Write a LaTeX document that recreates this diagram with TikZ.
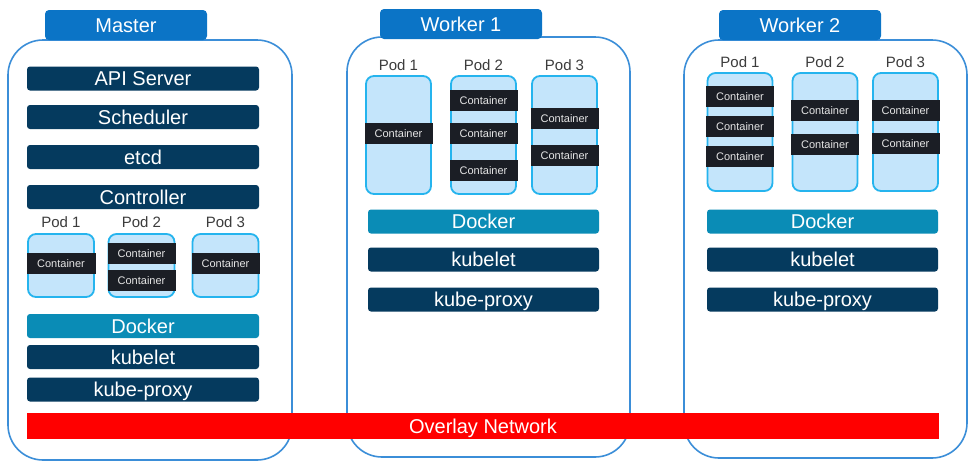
\documentclass[tikz,border=0pt]{standalone}
\usepackage{fontspec}
\setmainfont{Liberation Sans}
\definecolor{tabblue}{HTML}{0B74C6}
\definecolor{boxline}{HTML}{3B8ED8}
\definecolor{navy}{HTML}{053A5E}
\definecolor{dockerc}{HTML}{0A8CB6}
\definecolor{podfill}{HTML}{C4E5FB}
\definecolor{podline}{HTML}{25B4EE}
\definecolor{contc}{HTML}{1B1E25}
\definecolor{podtext}{HTML}{3C3C3C}
\definecolor{netred}{HTML}{FF0000}
\tikzset{
 every node/.style={inner sep=0pt, outer sep=0pt},
 bigfont/.style={font=\fontsize{20}{24}\selectfont, text height=14.3pt, text depth=0pt},
 bar/.style={fill=navy, rounded corners=3pt, bigfont, text=white, minimum width=232pt, minimum height=24pt},
 wbar/.style={bar, minimum width=231pt},
 docker/.style={bar, fill=dockerc},
 wdocker/.style={wbar, fill=dockerc},
 pod/.style={fill=podfill, draw=podline, line width=1.8pt, rounded corners=8pt},
 mpod/.style={pod, minimum width=66pt, minimum height=63pt},
 wpod/.style={pod, minimum width=65pt, minimum height=118pt},
 cont/.style={fill=contc, text=white!90!black, font=\fontsize{11}{13}\selectfont, text height=8pt, text depth=0pt, minimum height=21pt, minimum width=68pt},
 podlabel/.style={text=podtext, font=\fontsize{15}{18}\selectfont},
 host/.style={draw=boxline, line width=1.6pt, rounded corners=35pt, fill=white, minimum width=283pt},
 tab/.style={fill=tabblue, text=white, bigfont, rounded corners=4pt, minimum width=162pt, minimum height=30pt},
 netbar/.style={fill=netred, text=white, bigfont, minimum width=912pt, minimum height=26pt},
}
\begin{document}
\begin{tikzpicture}[x=1pt,y=-1pt]
\useasboundingbox (0,0) rectangle (975,467);
% host boxes
\node[host, minimum width=284pt, minimum height=420pt] (master) at (150,250) {};
\node[host, minimum height=420pt] (worker1) at (488.5,247) {};
\node[host, minimum height=418pt] (worker2) at (825.5,249) {};
% tabs
\node[tab] (mtab) at (126,25) {Master};
\node[tab] (w1tab) at (461,24) {Worker 1};
\node[tab] (w2tab) at (800,25) {Worker 2};
% master
\node[bar] (api) at (143,78.5) {API Server};
\node[bar] (sched) at (143,117) {Scheduler};
\node[bar] (etcd) at (143,157) {etcd};
\node[bar] (ctrl) at (143,197) {Controller};
\node[podlabel] (mp1l) at (61,222) {Pod 1};
\node[podlabel] (mp2l) at (141.5,222) {Pod 2};
\node[podlabel] (mp3l) at (225.5,222) {Pod 3};
\node[mpod] (mp1) at (61,265.5) {};
\node[mpod] (mp2) at (141.5,265.5) {};
\node[mpod] (mp3) at (225.5,265.5) {};
\node[cont, minimum width=69pt] (mc1) at (61,263) {Container};
\node[cont] (mc21) at (141.5,253.5) {Container};
\node[cont] (mc22) at (141.5,280) {Container};
\node[cont] (mc3) at (225.5,263) {Container};
\node[docker] (mdock) at (143,326) {Docker};
\node[bar] (mkubelet) at (143,357) {kubelet};
\node[bar] (mproxy) at (143,389.5) {kube-proxy};
% worker 1
\node[podlabel] (ap1l) at (398.5,65) {Pod 1};
\node[podlabel] (ap2l) at (483.5,65) {Pod 2};
\node[podlabel] (ap3l) at (564.5,65) {Pod 3};
\node[wpod] (ap1) at (398.5,135) {};
\node[wpod] (ap2) at (483.5,135) {};
\node[wpod] (ap3) at (564.5,135) {};
\node[cont] (ac1) at (398.5,133.5) {Container};
\node[cont] (ac21) at (483.5,100.5) {Container};
\node[cont] (ac22) at (483.5,133.5) {Container};
\node[cont] (ac23) at (483.5,170.5) {Container};
\node[cont] (ac31) at (564.5,118.5) {Container};
\node[cont] (ac32) at (564.5,155.5) {Container};
\node[wdocker] (adock) at (483.5,221.5) {Docker};
\node[wbar] (akubelet) at (483.5,259.5) {kubelet};
\node[wbar] (aproxy) at (483.5,299.5) {kube-proxy};
% worker 2
\node[podlabel] (bp1l) at (740,62) {Pod 1};
\node[podlabel] (bp2l) at (825,62) {Pod 2};
\node[podlabel] (bp3l) at (905.5,62) {Pod 3};
\node[wpod] (bp1) at (740,132) {};
\node[wpod] (bp2) at (825,132) {};
\node[wpod] (bp3) at (905.5,132) {};
\node[cont] (bc11) at (740,96.5) {Container};
\node[cont] (bc12) at (740,126) {Container};
\node[cont] (bc13) at (740,156.5) {Container};
\node[cont] (bc21) at (825,110.5) {Container};
\node[cont] (bc22) at (825,144.5) {Container};
\node[cont] (bc31) at (905.5,110.5) {Container};
\node[cont] (bc32) at (905.5,143.5) {Container};
\node[wdocker] (bdock) at (822.5,221.5) {Docker};
\node[wbar] (bkubelet) at (822.5,259.5) {kubelet};
\node[wbar] (bproxy) at (822.5,299.5) {kube-proxy};
% overlay network
\node[netbar] (net) at (483,426) {Overlay Network};
\end{tikzpicture}
\end{document}
